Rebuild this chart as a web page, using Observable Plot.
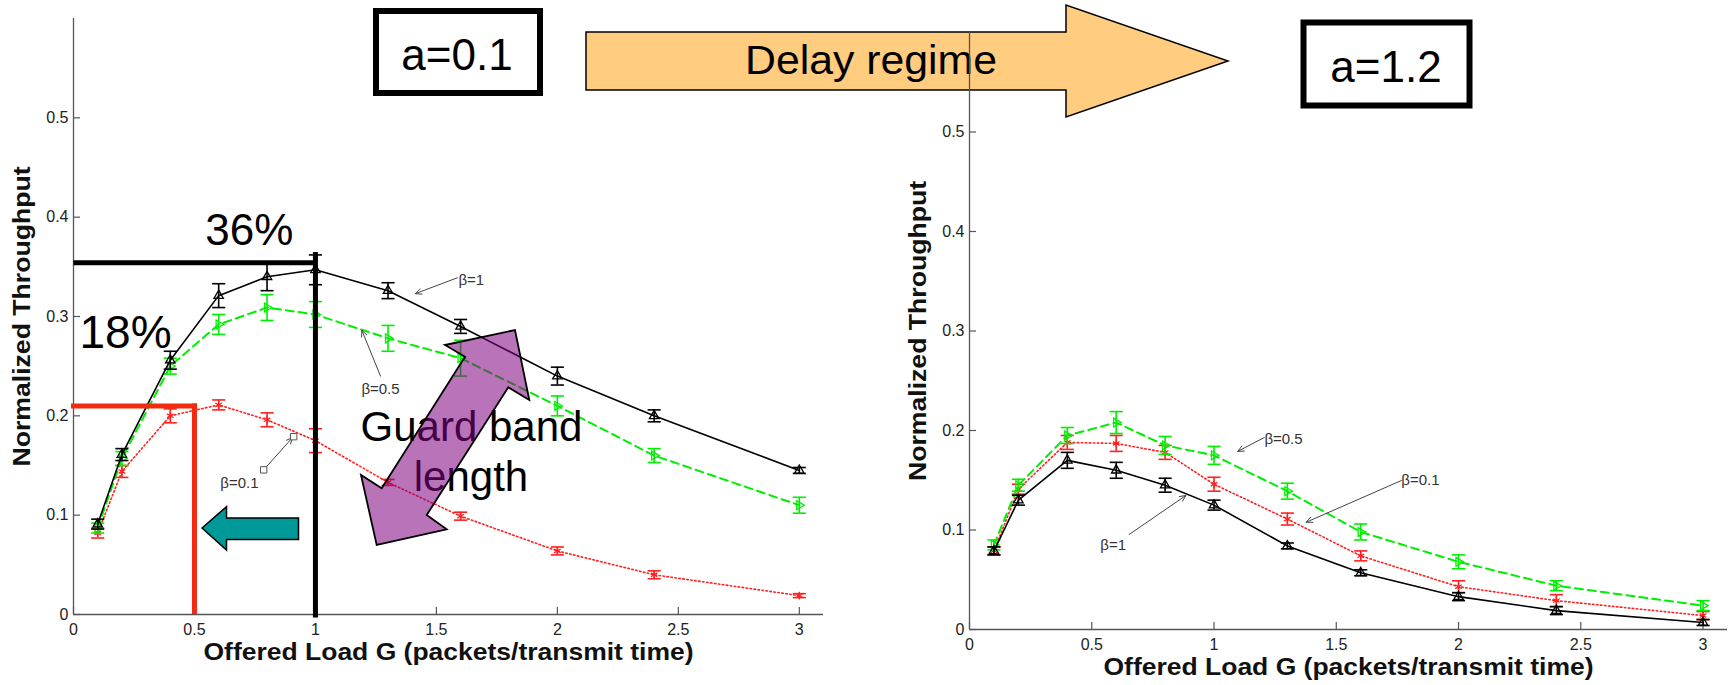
<!DOCTYPE html>
<html><head><meta charset="utf-8">
<script src="https://cdn.jsdelivr.net/npm/d3@7"></script>
<script src="https://cdn.jsdelivr.net/npm/@observablehq/plot@0.6"></script>
<style>
body{margin:0;background:#fff;}
#wrap{position:relative;width:1734px;height:685px;overflow:hidden;font-family:"Liberation Sans",Arial,sans-serif;background:#fff;}
#wrap > svg{position:absolute;top:0;}
</style></head><body><div id="wrap"></div>
<script>
// ---------- data ----------
const loads = [0.1, 0.2, 0.4, 0.6, 0.8, 1.0, 1.3, 1.6, 2.0, 2.4, 3.0];
const xTicks = [0, 0.5, 1, 1.5, 2, 2.5, 3];
const yTicks = [0, 0.1, 0.2, 0.3, 0.4, 0.5];
const xLabel = "Offered Load G (packets/transmit time)";
const yLabel = "Normalized Throughput";

// a = 0.1 (left)
const a01_b1   = [0.091, 0.161, 0.256, 0.321, 0.340, 0.347, 0.326, 0.290, 0.240, 0.200, 0.145];
const a01_b1e  = [0.005, 0.006, 0.009, 0.012, 0.014, 0.015, 0.008, 0.007, 0.009, 0.006, 0.003];
const a01_b05  = [0.087, 0.157, 0.250, 0.292, 0.309, 0.302, 0.278, 0.258, 0.210, 0.160, 0.110];
const a01_b05e = [0.005, 0.007, 0.008, 0.010, 0.013, 0.013, 0.013, 0.018, 0.010, 0.007, 0.008];
const a01_b01  = [0.082, 0.144, 0.200, 0.211, 0.196, 0.175, 0.133, 0.099, 0.064, 0.040, 0.019];
const a01_b01e = [0.005, 0.006, 0.007, 0.005, 0.007, 0.012, 0.003, 0.004, 0.004, 0.004, 0.002];

// a = 1.2 (right)
const a12_b1   = [0.079, 0.130, 0.170, 0.160, 0.145, 0.125, 0.084, 0.057, 0.033, 0.019, 0.007];
const a12_b1e  = [0.004, 0.005, 0.008, 0.008, 0.007, 0.005, 0.003, 0.003, 0.004, 0.004, 0.003];
const a12_b05  = [0.085, 0.145, 0.195, 0.208, 0.185, 0.175, 0.139, 0.098, 0.068, 0.044, 0.024];
const a12_b05e = [0.005, 0.006, 0.008, 0.011, 0.009, 0.009, 0.008, 0.008, 0.007, 0.005, 0.005];
const a12_b01  = [0.079, 0.141, 0.188, 0.187, 0.178, 0.146, 0.111, 0.074, 0.043, 0.029, 0.014];
const a12_b01e = [0.004, 0.005, 0.007, 0.008, 0.007, 0.007, 0.006, 0.005, 0.006, 0.006, 0.004];

// annotation values (data space)
const peak36 = {x: 1, y: 0.354};
const peak18 = {x: 0.5, y: 0.21};
const leftTexts = [
  {x: 0.727, y: 0.386, t: "36%", s: 44},
  {x: 0.215, y: 0.283, t: "18%", s: 46},
  {x: 1.645, y: 0.188, t: "Guard band", s: 42},
  {x: 1.643, y: 0.138, t: "length", s: 42}
];
const leftArrows = [
  {x1: 1.587, y1: 0.339, x2: 1.413, y2: 0.323},
  {x1: 1.269, y1: 0.240, x2: 1.192, y2: 0.286},
  {x1: 0.786, y1: 0.1456, x2: 0.905, y2: 0.178}
];
const leftHandles = [{x: 0.786, y: 0.1456}, {x: 0.91, y: 0.179}];
const leftBetaStart = [{x: 1.591, y: 0.337, t: "β=1"}];
const leftBetaMid = [{x: 1.269, y: 0.227, t: "β=0.5"}, {x: 0.686, y: 0.132, t: "β=0.1"}];

const rightArrows = [
  {x1: 1.206, y1: 0.193, x2: 1.097, y2: 0.179},
  {x1: 0.653, y1: 0.0955, x2: 0.885, y2: 0.1347},
  {x1: 1.766, y1: 0.1497, x2: 1.377, y2: 0.1078}
];
const rightBetaStart = [{x: 1.206, y: 0.1917, t: "β=0.5"}, {x: 1.766, y: 0.150, t: "β=0.1"}];
const rightBetaEnd = [{x: 0.640, y: 0.0844, t: "β=1"}];

// page decorations (pixel space)
const orangeArrow = [[586,32],[1066,32],[1066,5],[1228,61],[1066,117],[1066,90],[586,90]];
const tealArrow = [[202,528],[226.5,506.7],[226.5,518],[298.5,518],[298.5,539.5],[226.5,539.5],[226.5,550]];
const purpleArrow = [[445,345],[515,330],[529.3,400],[508.3,387.3],[426.7,515],[446.7,529.3],[376.7,545],[361,475],[381.7,488.3],[465,356.7]];
const boxes = [
  {x: 376, y: 11, w: 164, h: 82, t: "a=0.1", tx: 457, ty: 70},
  {x: 1303.5, y: 22.5, w: 166, h: 83, t: "a=1.2", tx: 1386, ty: 81.5}
];

// ---------- helpers ----------
const FONT = '"Liberation Sans", Arial, sans-serif';
const rows = (v, e) => loads.map((x, i) => ({x, y: v[i], lo: v[i] - e[i], hi: v[i] + e[i]}));
const cap = {draw(ctx, size) { const w = Math.sqrt(size); ctx.moveTo(-w, 0); ctx.lineTo(w, 0); }};
const ST = {
  b1:  {color: "#000000", width: 1.6, dash: null, symbol: "triangle2", rotate: 0, r: 4.5},
  b05: {color: "#00ee00", width: 2, dash: "8,5", symbol: "triangle2", rotate: 90, r: 4.2},
  b01: {color: "#ff2020", width: 1.6, dash: "1.5,2.5", symbol: "asterisk", rotate: 0, r: 3.6}
};
function seriesMarks(data, st) {
  return [
    Plot.line(data, {x: "x", y: "y", stroke: st.color, strokeWidth: st.width, strokeDasharray: st.dash || undefined}),
    Plot.ruleX(data, {x: "x", y1: "lo", y2: "hi", stroke: st.color, strokeWidth: 1.6}),
    Plot.dot(data, {x: "x", y: "lo", symbol: cap, r: 3.7, stroke: st.color, strokeWidth: 1.6}),
    Plot.dot(data, {x: "x", y: "hi", symbol: cap, r: 3.7, stroke: st.color, strokeWidth: 1.6}),
    Plot.dot(data, {x: "x", y: "y", symbol: st.symbol, rotate: st.rotate, r: st.r, stroke: st.color, fill: "none", strokeWidth: 1.3})
  ];
}
function frameMarks(plotW, plotH) {
  return [
    Plot.ruleY([0], {stroke: "#555", strokeWidth: 1.3}),
    Plot.ruleX([0], {stroke: "#555", strokeWidth: 1.3}),
    Plot.tickX(xTicks, {x: d => d, insetTop: plotH - 7, stroke: "#555", strokeWidth: 1.2}),
    Plot.tickY(yTicks, {y: d => d, insetRight: plotW - 7, stroke: "#555", strokeWidth: 1.2}),
    Plot.axisX(xTicks, {tickSize: 0, tickPadding: 9, fontSize: 16, color: "#222", tickFormat: d => String(d), label: null}),
    Plot.axisY(yTicks, {tickSize: 0, tickPadding: 5, fontSize: 16, color: "#222", tickFormat: d => String(d), label: null}),
    Plot.text([xLabel], {text: d => d, frameAnchor: "bottom", dy: 45, fontSize: 24, fontWeight: "bold", fill: "#111"}),
    Plot.text([yLabel], {text: d => d, frameAnchor: "left", textAnchor: "start", dx: -51, dy: 150, rotate: -90, fontSize: 24, fontWeight: "bold", fill: "#111"})
  ];
}
function stretch(svg) {
  d3.select(svg).selectAll("text").each(function () {
    if (this.textContent === xLabel) d3.select(this).attr("textLength", 490).attr("lengthAdjust", "spacingAndGlyphs");
    if (this.textContent === yLabel) d3.select(this).attr("text-anchor", "start").attr("textLength", 300).attr("lengthAdjust", "spacingAndGlyphs");
  });
}

const wrap = d3.select("#wrap");

// ---------- under layer (orange arrow) ----------
const under = wrap.append("svg").attr("width", 1734).attr("height", 685).style("left", "0px");
under.append("polygon").attr("points", orangeArrow.map(p => p.join(",")).join(" "))
  .attr("fill", "#ffcc80").attr("stroke", "#000").attr("stroke-width", 1.5);
under.append("text").attr("x", 871).attr("y", 74).attr("text-anchor", "middle")
  .attr("font-family", FONT).attr("font-size", 40).attr("textLength", 252).attr("lengthAdjust", "spacingAndGlyphs")
  .text("Delay regime");

// ---------- left chart ----------
const L = {w: 840, ml: 73, mr: 17, mt: 18, mb: 71};
const left = Plot.plot({
  width: L.w, height: 685, marginLeft: L.ml, marginRight: L.mr, marginTop: L.mt, marginBottom: L.mb,
  x: {domain: [0, 3.1]}, y: {domain: [0, 0.6]},
  style: {background: "transparent", fontFamily: FONT, overflow: "visible"},
  marks: [
    ...frameMarks(L.w - L.ml - L.mr, 685 - L.mt - L.mb),
    ...seriesMarks(rows(a01_b01, a01_b01e), ST.b01),
    ...seriesMarks(rows(a01_b05, a01_b05e), ST.b05),
    ...seriesMarks(rows(a01_b1, a01_b1e), ST.b1),
    Plot.arrow(leftArrows, {x1: "x1", y1: "y1", x2: "x2", y2: "y2", stroke: "#444", strokeWidth: 1, headLength: 10, headAngle: 50}),
    Plot.dot(leftHandles, {x: "x", y: "y", symbol: "square", r: 3.6, stroke: "#555", fill: "white", strokeWidth: 1}),
    Plot.text(leftBetaStart, {x: "x", y: "y", text: "t", textAnchor: "start", fontSize: 15, fill: "#333"}),
    Plot.text(leftBetaMid, {x: "x", y: "y", text: "t", fontSize: 15, fill: "#333"}),
    Plot.link([{x1: 0, y1: peak36.y, x2: peak36.x, y2: peak36.y}, {x1: peak36.x, y1: -0.003, x2: peak36.x, y2: 0.365}],
      {x1: "x1", y1: "y1", x2: "x2", y2: "y2", stroke: "#000", strokeWidth: 5}),
    Plot.link([{x1: 0, y1: peak18.y, x2: peak18.x, y2: peak18.y}, {x1: peak18.x, y1: 0.003, x2: peak18.x, y2: peak18.y}],
      {x1: "x1", y1: "y1", x2: "x2", y2: "y2", stroke: "#f22a10", strokeWidth: 5, strokeLinecap: "square"}),
    Plot.text(leftTexts, {x: "x", y: "y", text: "t", fontSize: "s", fill: "#000"})
  ]
});
left.style.left = "0px";
stretch(left);
wrap.node().appendChild(left);

// ---------- right chart ----------
const R = {w: 874, ml: 109, mr: 7, mt: 32, mb: 56};
const right = Plot.plot({
  width: R.w, height: 685, marginLeft: R.ml, marginRight: R.mr, marginTop: R.mt, marginBottom: R.mb,
  x: {domain: [0, 3.1]}, y: {domain: [0, 0.6]},
  style: {background: "transparent", fontFamily: FONT, overflow: "visible"},
  marks: [
    ...frameMarks(R.w - R.ml - R.mr, 685 - R.mt - R.mb),
    ...seriesMarks(rows(a12_b01, a12_b01e), ST.b01),
    ...seriesMarks(rows(a12_b05, a12_b05e), ST.b05),
    ...seriesMarks(rows(a12_b1, a12_b1e), ST.b1),
    Plot.arrow(rightArrows, {x1: "x1", y1: "y1", x2: "x2", y2: "y2", stroke: "#444", strokeWidth: 1, headLength: 10, headAngle: 50}),
    Plot.text(rightBetaStart, {x: "x", y: "y", text: "t", textAnchor: "start", fontSize: 15, fill: "#333"}),
    Plot.text(rightBetaEnd, {x: "x", y: "y", text: "t", textAnchor: "end", fontSize: 15, fill: "#333"})
  ]
});
right.style.left = "860px";
stretch(right);
wrap.node().appendChild(right);

// ---------- top layer ----------
const over = wrap.append("svg").attr("width", 1734).attr("height", 685).style("left", "0px").style("pointer-events", "none");
over.append("polygon").attr("points", tealArrow.map(p => p.join(",")).join(" "))
  .attr("fill", "#009999").attr("stroke", "#000").attr("stroke-width", 1.5);
over.append("polygon").attr("points", purpleArrow.map(p => p.join(",")).join(" "))
  .attr("fill", "#800080").attr("fill-opacity", 0.55).attr("stroke", "#000").attr("stroke-width", 1.8);
boxes.forEach(b => {
  over.append("rect").attr("x", b.x).attr("y", b.y).attr("width", b.w).attr("height", b.h)
    .attr("fill", "white").attr("stroke", "#000").attr("stroke-width", 6);
  over.append("text").attr("x", b.tx).attr("y", b.ty).attr("text-anchor", "middle")
    .attr("font-family", FONT).attr("font-size", 44).attr("fill", "#000").text(b.t);
});
</script></body></html>
